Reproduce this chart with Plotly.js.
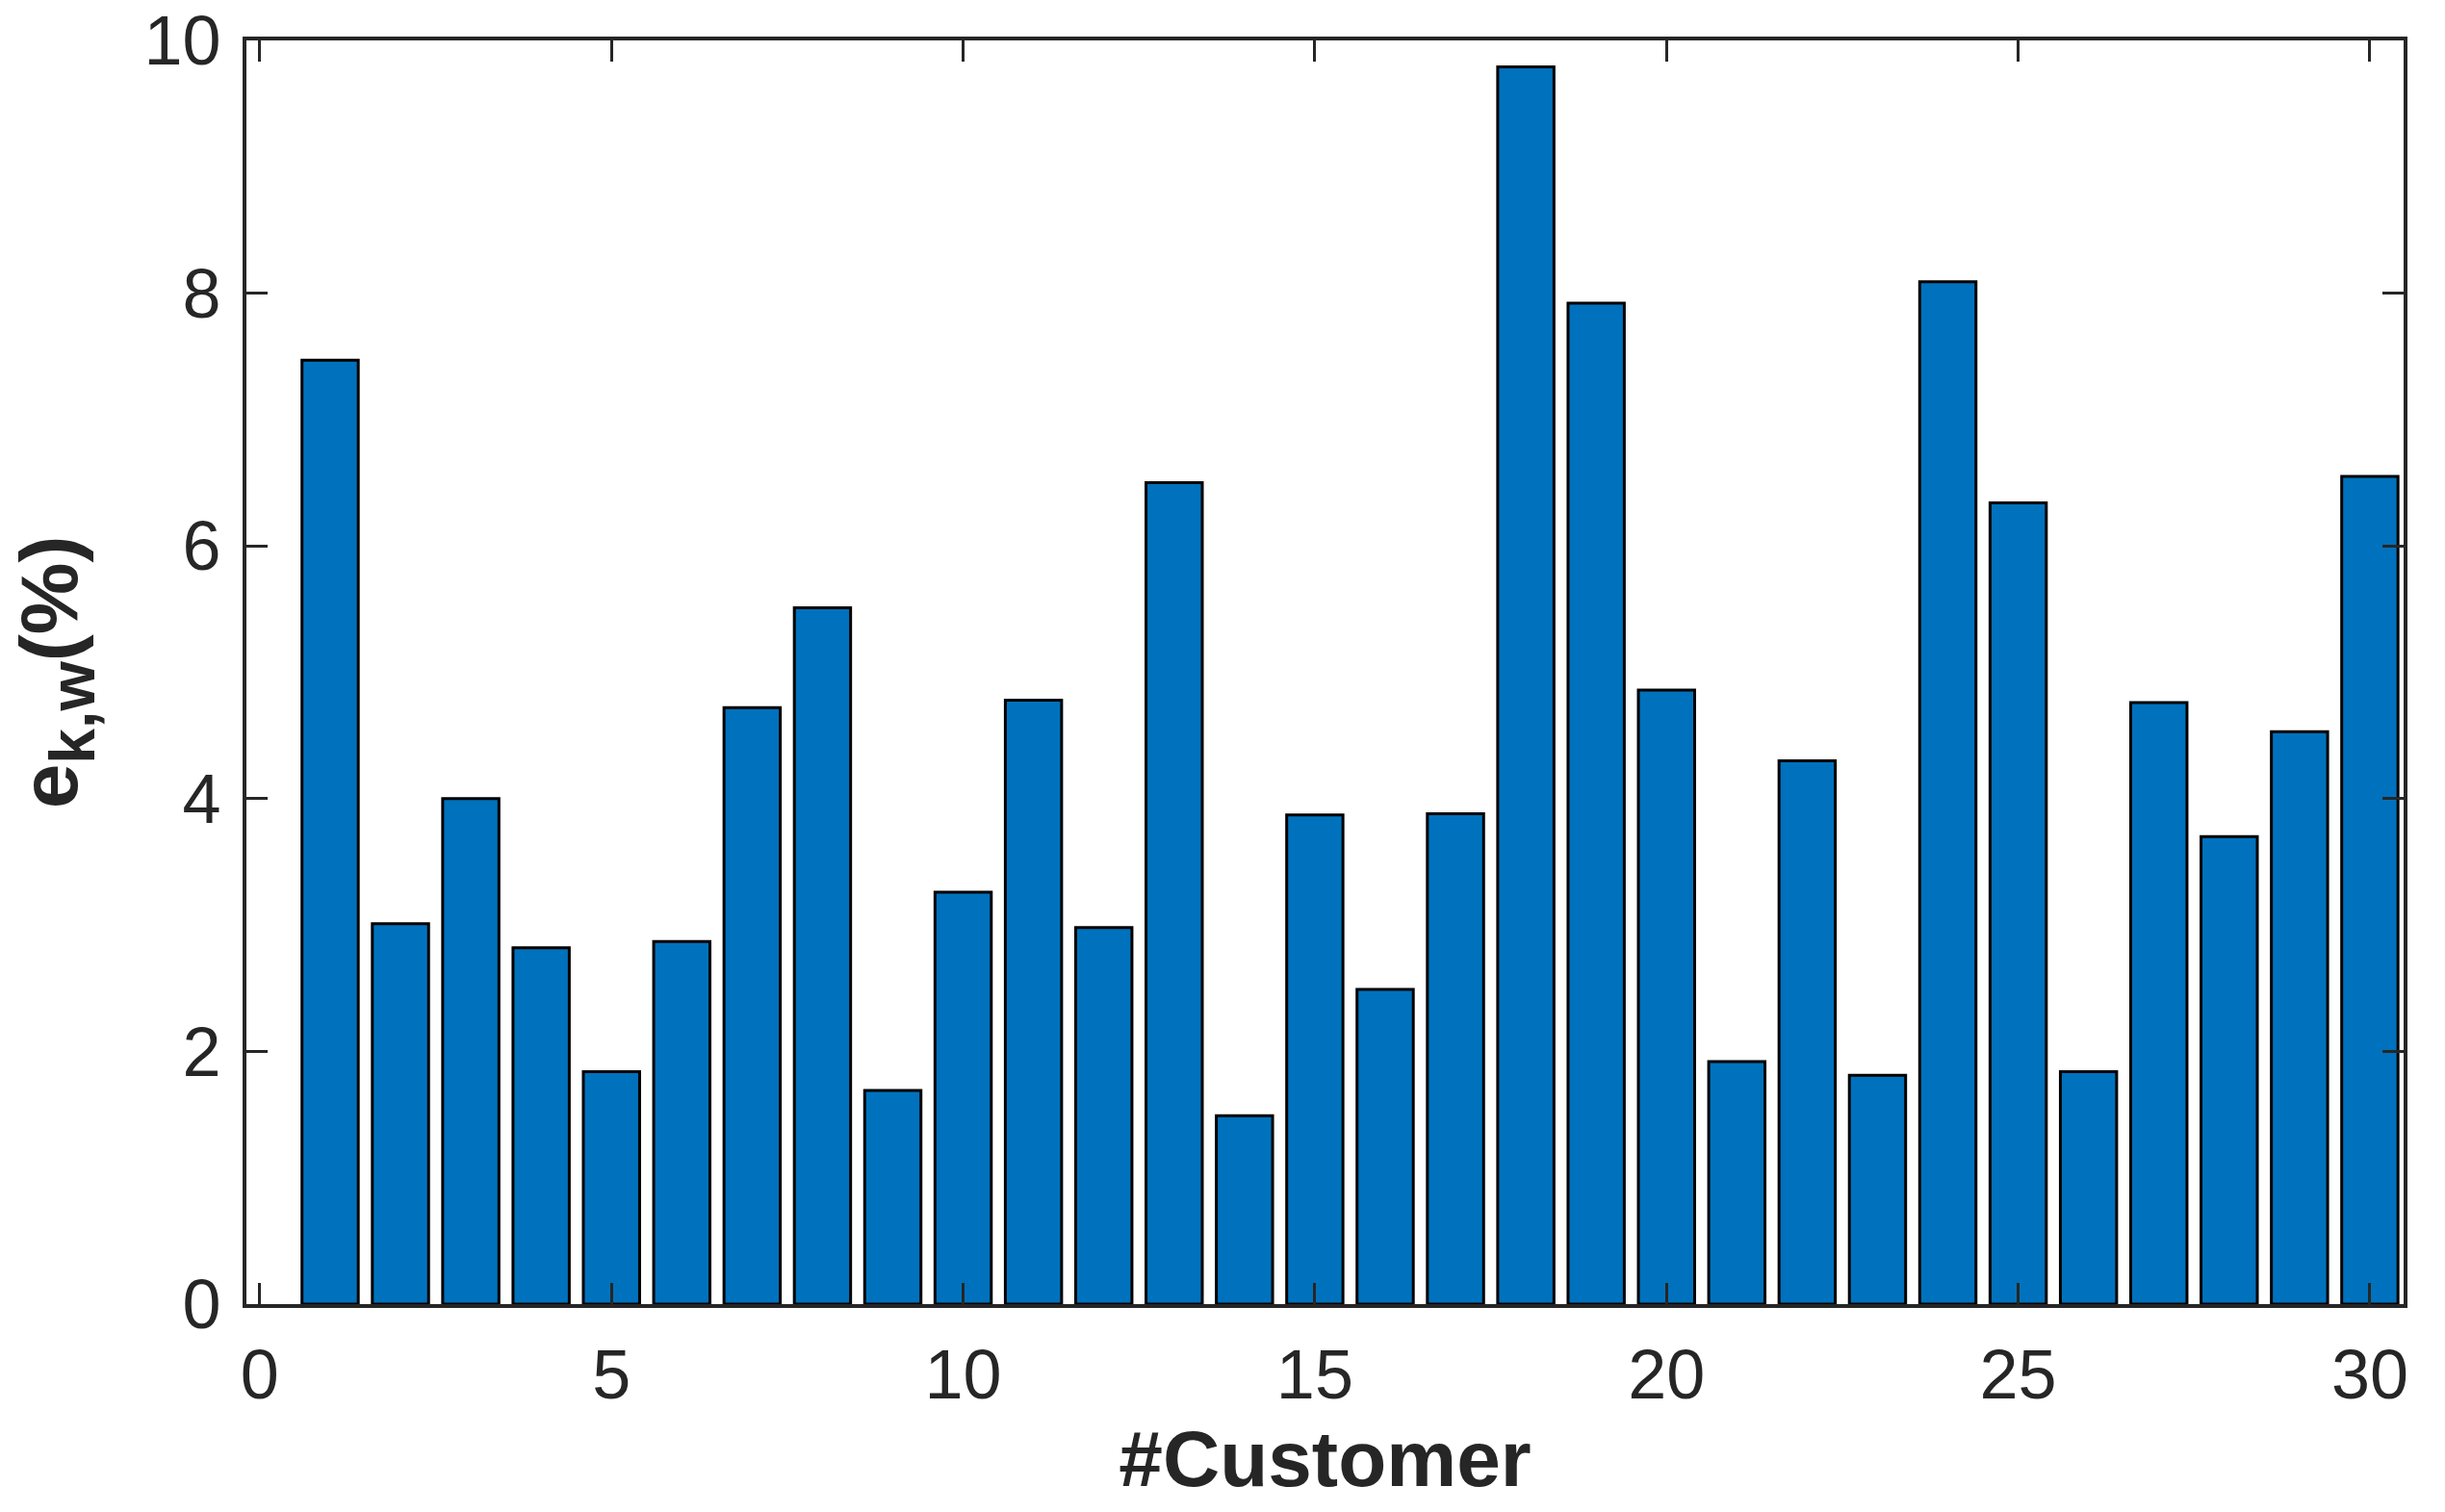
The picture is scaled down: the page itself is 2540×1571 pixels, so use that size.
<!DOCTYPE html>
<html>
<head>
<meta charset="utf-8">
<script src="https://cdn.plot.ly/plotly-3.0.1.min.js"></script>
<style>html,body{margin:0;padding:0;background:#fff;}#chart{width:2540px;height:1571px;}</style>
</head>
<body>
<div id="chart"></div>
<script>
const customers = [1,2,3,4,5,6,7,8,9,10,11,12,13,14,15,16,17,18,19,20,21,22,23,24,25,26,27,28,29,30];
const errors = [7.47,3.01,4.00,2.82,1.84,2.87,4.72,5.51,1.69,3.26,4.78,2.98,6.50,1.49,3.87,2.49,3.88,9.79,7.92,4.86,1.92,4.30,1.81,8.09,6.34,1.84,4.76,3.70,4.53,6.55];
const xTicks = [0,5,10,15,20,25,30];
const yTicks = [0,2,4,6,8,10];

const axisColor = '#262626';
const trace = {
  type: 'bar',
  x: customers,
  y: errors,
  width: 0.8,
  marker: {color: '#0072BD', line: {color: '#000000', width: 3}},
  hoverinfo: 'x+y'
};
const layout = {
  width: 2540, height: 1571,
  margin: {l: 256, r: 43, t: 42, b: 216, pad: 0},
  paper_bgcolor: '#ffffff', plot_bgcolor: '#ffffff',
  showlegend: false,
  font: {family: 'Liberation Sans, Arial, sans-serif', color: axisColor},
  xaxis: {
    range: [-0.19, 30.48],
    tickvals: xTicks, ticktext: xTicks.map(String),
    ticks: 'inside', ticklen: 22, tickwidth: 3, tickcolor: axisColor,
    showline: true, linewidth: 4, linecolor: axisColor, mirror: 'ticks',
    showgrid: false, zeroline: false,
    tickfont: {size: 72, color: axisColor},
    ticklabelstandoff: 8,
    title: {text: '#Customer', font: {size: 82, color: axisColor, family: 'Liberation Sans, Arial, sans-serif', weight: 'bold'}, standoff: 20}
  },
  yaxis: {
    range: [0, 10],
    tickvals: yTicks, ticktext: yTicks.map(String),
    ticks: 'inside', ticklen: 22, tickwidth: 3, tickcolor: axisColor,
    showline: true, linewidth: 4, linecolor: axisColor, mirror: 'ticks',
    showgrid: false, zeroline: false,
    tickfont: {size: 72, color: axisColor},
    ticklabelstandoff: 8,
    title: {text: '<b>e<sub><span style="font-size:66px">k,w</span></sub>(%)</b>', font: {size: 84, color: axisColor, family: 'Liberation Sans, Arial, sans-serif'}, standoff: 42}
  },
  bargap: 0.2
};
Plotly.newPlot('chart', [trace], layout, {displayModeBar: false, staticPlot: true});
</script>
</body>
</html>
